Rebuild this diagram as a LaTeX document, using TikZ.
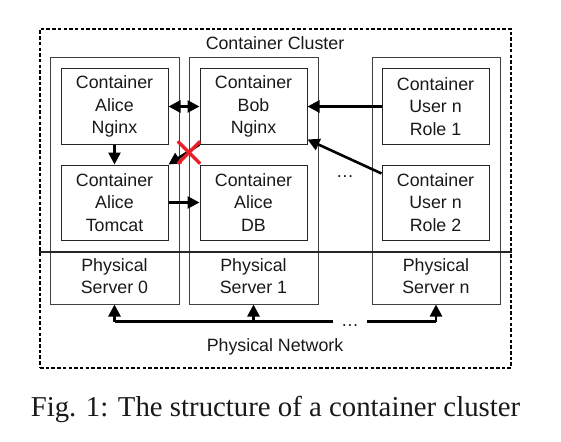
\documentclass[tikz,border=0pt]{standalone}
\usepackage{fontspec}
\setmainfont{Liberation Sans}
\newfontfamily\captionfont{Liberation Serif}
\usetikzlibrary{arrows.meta,positioning}
\definecolor{xred}{RGB}{232,30,40}

\begin{document}
\begin{tikzpicture}[x=1pt,y=-1pt,font=\fontsize{17.8}{22.5}\selectfont,text=black!90]
    \tikzstyle{cluster box}=[draw,line width=1.8pt,dash pattern=on 3.5pt off 2.2pt,minimum width=471pt,minimum height=339pt,inner sep=0]
    \tikzstyle{server box}=[draw=black!75,line width=1pt,minimum width=129pt,minimum height=246pt,inner sep=0]
    \tikzstyle{container box}=[draw=black!85,line width=1pt,minimum width=107pt,minimum height=75pt,inner sep=0,align=center]
    \tikzstyle{label text}=[align=center,inner sep=0]
    \tikzstyle{link}=[line width=2.6pt,-{Triangle[length=12pt,width=12pt]}]
    \tikzstyle{both link}=[line width=2.6pt,{Triangle[length=12pt,width=12pt]}-{Triangle[length=12pt,width=12pt]}]
    \tikzstyle{cross}=[xred,line width=3.2pt]

    \useasboundingbox (0,0) rectangle (561,441);

    \node(cluster)[cluster box] at (275.5,198.5){};
    \node(title)[label text] at (275,43){Container Cluster};

    \node(s0)[server box] at (114.5,181){};
    \node(s1)[server box] at (253.5,181){};
    \node(sn)[server box,minimum width=128pt] at (436,181){};

    \node(an)[container box] at (114.5,106.5){Container\\Alice\\Nginx};
    \node(bn)[container box] at (253.5,106.5){Container\\Bob\\Nginx};
    \node(r1)[container box] at (435.5,106.5){Container\\User n\\Role 1};
    \node(at)[container box] at (114.5,202.5){Container\\Alice\\Tomcat};
    \node(ad)[container box] at (253.5,202.5){Container\\Alice\\DB};
    \node(r2)[container box] at (435.5,202.5){Container\\User n\\Role 2};
    \node(dots1)[label text] at (345,177){\dots};

    \coordinate(hl) at (cluster.west |- 0,252);
    \coordinate(hr) at (cluster.east |- 0,252);
    \draw[line width=1.6pt,black!85] (hl) -- (hr);

    \node(p0)[label text] at (114.5,276){Physical\\Server 0};
    \node(p1)[label text] at (253.5,276){Physical\\Server 1};
    \node(pn)[label text] at (436,276){Physical\\Server n};

    \draw[both link] (an.east) -- (bn.west);
    \draw[link] (an.south) -- (at.north);
    \draw[link] (at.east) -- (ad.west);
    \draw[link] (bn.south west) -- (at.north east);
    \draw[link] (r1.west) -- (bn.east);
    \draw[link] ([yshift=29pt]r2.west) -- ([yshift=5pt]bn.south east);

    \node(x)[inner sep=0,minimum size=22pt] at (189,152.5){};
    \draw[cross] (x.north west) -- (x.south east);
    \draw[cross] (x.south west) -- (x.north east);

    \coordinate(n0) at ([yshift=-17pt]s0.south);
    \coordinate(n1) at ([yshift=-17pt]s1.south);
    \coordinate(nn) at ([yshift=-17pt]sn.south);
    \node(dots2)[label text] at (350,326){\dots};
    \draw[line width=2.6pt] (n0) -- (n1) -- ([xshift=-17pt]dots2.center |- n1);
    \draw[line width=2.6pt] ([xshift=17pt]dots2.center |- nn) -- (nn);
    \draw[link] (n0) -- (s0.south);
    \draw[link] (n1) -- (s1.south);
    \draw[link] (nn) -- (sn.south);
    \node(net)[label text] at (275,347){Physical Network};

    \node(caption)[inner sep=0,font=\captionfont\fontsize{28.8}{32}\selectfont] at (275.5,409){Fig. 1: The structure of a container cluster};
\end{tikzpicture}
\end{document}
